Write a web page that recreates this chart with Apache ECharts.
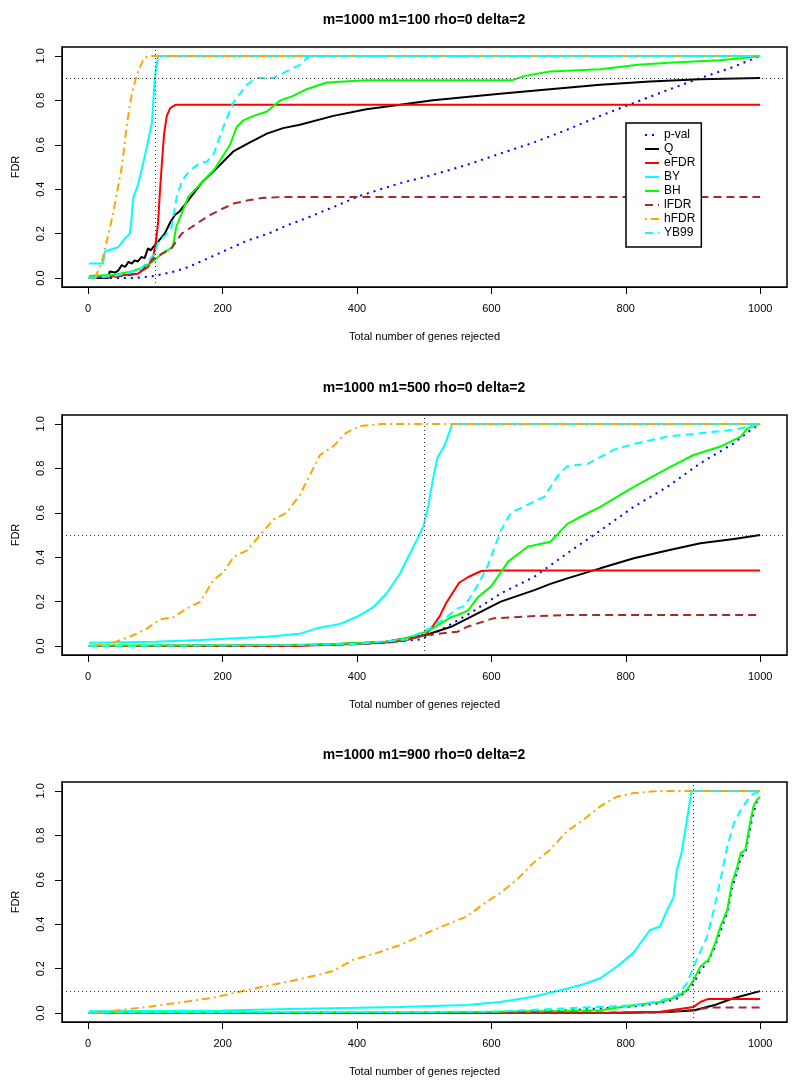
<!DOCTYPE html>
<html>
<head>
<meta charset="utf-8">
<script src="https://cdn.jsdelivr.net/npm/echarts@6/dist/echarts.min.js"></script>
<style>
  html, body { margin: 0; padding: 0; background: #fff; }
  #chart { width: 800px; height: 1085px; }
</style>
</head>
<body>
<div id="chart"></div>
<script>
// series names, as in the legend
const methods = ['p-val', 'Q', 'eFDR', 'BY', 'BH', 'lFDR', 'hFDR', 'YB99'];
const titles = ['m=1000 m1=100 rho=0 delta=2', 'm=1000 m1=500 rho=0 delta=2', 'm=1000 m1=900 rho=0 delta=2'];
const xTicks = [0, 200, 400, 600, 800, 1000];
const yTicks = [0, 0.2, 0.4, 0.6, 0.8, 1.0];
const hLines = [0.9, 0.5, 0.1];     // dotted horizontal reference
const vLines = [100, 500, 900];     // dotted vertical reference

// ---- panel 1 : m1=100  ([genes rejected, FDR]) ----
const p1Pval = [[1,0],[70,0],[99,0.01],[129,0.03],[149,0.05],[179,0.09],[208,0.13],[238,0.17],[268,0.2],[298,0.24],[325,0.27],[365,0.32],[404,0.37],[464,0.427],[513,0.465],[563,0.509],[613,0.56],[663,0.61],[712,0.667],[762,0.73],[811,0.787],[861,0.845],[911,0.9],[960,0.95],[1000,1]];
const p1Q = [[1,0],[30,0],[32,0.03],[40,0.025],[45,0.035],[50,0.059],[55,0.05],[60,0.073],[65,0.065],[69,0.08],[74,0.075],[79,0.095],[84,0.09],[89,0.134],[93,0.125],[97,0.14],[104,0.164],[114,0.2],[122,0.25],[129,0.284],[136,0.3],[149,0.35],[169,0.43],[193,0.5],[216,0.57],[240,0.61],[266,0.65],[290,0.675],[315,0.69],[365,0.73],[414,0.76],[464,0.78],[513,0.8],[563,0.815],[613,0.83],[687,0.85],[762,0.87],[836,0.885],[911,0.895],[1000,0.9]];
const p1EFDR = [[1,0],[40,0.01],[74,0.02],[89,0.05],[97,0.1],[101,0.17],[104,0.25],[107,0.4],[110,0.53],[113,0.65],[117,0.73],[122,0.765],[130,0.78],[1000,0.78]];
const p1BY = [[1,0.066],[22,0.066],[25,0.12],[45,0.14],[55,0.18],[62,0.2],[64,0.25],[67,0.36],[74,0.42],[79,0.48],[85,0.56],[90,0.63],[95,0.7],[98,0.85],[100,0.92],[104,1],[1000,1]];
const p1BH = [[1,0.009],[40,0.015],[64,0.03],[79,0.045],[94,0.07],[110,0.11],[126,0.14],[131,0.23],[139,0.29],[149,0.366],[169,0.43],[188,0.49],[211,0.6],[221,0.68],[231,0.71],[246,0.73],[266,0.75],[286,0.8],[305,0.82],[325,0.85],[355,0.88],[414,0.89],[630,0.89],[650,0.91],[687,0.93],[762,0.94],[818,0.96],[870,0.97],[940,0.98],[975,0.99],[1000,1]];
const p1LFDR = [[1,0],[40,0.005],[74,0.02],[99,0.09],[124,0.135],[139,0.2],[159,0.24],[179,0.28],[198,0.31],[218,0.337],[238,0.35],[258,0.36],[288,0.365],[1000,0.365]];
const p1HFDR = [[1,0],[10,0],[20,0.07],[32,0.22],[37,0.29],[50,0.5],[58,0.7],[65,0.83],[73,0.92],[83,0.99],[92,1],[1000,1]];
const p1YB99 = [[1,0],[40,0.01],[78,0.04],[99,0.11],[104,0.16],[117,0.2],[124,0.23],[132,0.37],[140,0.44],[150,0.48],[167,0.52],[177,0.525],[187,0.56],[201,0.68],[216,0.79],[236,0.87],[250,0.9],[276,0.9],[295,0.93],[315,0.96],[330,1],[1000,1]];

// ---- panel 2 : m1=500 ----
const p2Pval = [[1,0],[300,0.003],[400,0.01],[450,0.018],[494,0.03],[514,0.055],[564,0.14],[614,0.237],[664,0.312],[713,0.418],[762,0.52],[812,0.627],[862,0.717],[911,0.823],[961,0.913],[985,0.97],[1000,1]];
const p2Q = [[1,0],[300,0.002],[365,0.008],[439,0.018],[474,0.036],[503,0.05],[523,0.07],[540,0.087],[565,0.125],[614,0.2],[664,0.252],[688,0.28],[713,0.305],[762,0.35],[812,0.395],[862,0.43],[911,0.463],[961,0.482],[1000,0.5]];
const p2EFDR = [[1,0],[300,0.001],[365,0.006],[439,0.015],[474,0.027],[503,0.054],[513,0.09],[523,0.134],[533,0.195],[552,0.285],[565,0.31],[585,0.338],[600,0.34],[1000,0.34]];
const p2BY = [[1,0.015],[100,0.02],[167,0.027],[266,0.042],[315,0.056],[340,0.08],[375,0.1],[400,0.132],[425,0.177],[444,0.237],[464,0.327],[479,0.418],[489,0.477],[499,0.54],[506,0.63],[513,0.75],[520,0.85],[530,0.9],[542,1],[1000,1]];
const p2BH = [[1,0.003],[300,0.005],[365,0.009],[439,0.018],[474,0.036],[503,0.065],[513,0.08],[540,0.13],[550,0.14],[565,0.16],[580,0.22],[600,0.27],[625,0.38],[654,0.447],[688,0.47],[713,0.55],[738,0.59],[762,0.627],[812,0.717],[862,0.8],[901,0.86],[941,0.898],[971,0.943],[981,0.98],[1000,1]];
const p2LFDR = [[1,0],[300,0.003],[400,0.008],[464,0.02],[503,0.05],[550,0.065],[564,0.087],[603,0.125],[664,0.135],[713,0.14],[1000,0.14]];
const p2HFDR = [[1,0],[33,0.01],[68,0.05],[88,0.08],[107,0.12],[127,0.13],[147,0.17],[167,0.2],[187,0.3],[201,0.33],[216,0.4],[236,0.43],[256,0.5],[276,0.57],[295,0.6],[315,0.68],[335,0.8],[345,0.86],[365,0.9],[384,0.96],[404,0.99],[438,1],[1000,1]];
const p2YB99 = [[1,0],[300,0.004],[400,0.01],[474,0.03],[508,0.08],[533,0.13],[550,0.17],[560,0.18],[575,0.25],[594,0.357],[614,0.52],[629,0.6],[659,0.643],[679,0.673],[698,0.763],[713,0.81],[743,0.82],[782,0.883],[812,0.91],[862,0.943],[911,0.958],[961,0.973],[1000,1]];

// ---- panel 3 : m1=900 ----
const p3Pval = [[1,0],[600,0.004],[700,0.01],[811,0.03],[851,0.045],[876,0.065],[891,0.1],[901,0.134],[911,0.19],[923,0.235],[933,0.3],[941,0.37],[951,0.45],[958,0.56],[966,0.64],[971,0.7],[978,0.72],[983,0.8],[990,0.9],[995,0.95],[1000,0.972]];
const p3Q = [[1,0],[800,0.002],[861,0.005],[901,0.012],[911,0.02],[931,0.035],[960,0.067],[1000,0.099]];
const p3EFDR = [[1,0],[780,0.002],[851,0.006],[901,0.028],[911,0.05],[923,0.064],[1000,0.064]];
const p3BY = [[1,0.008],[200,0.012],[300,0.018],[464,0.027],[563,0.036],[613,0.05],[662,0.074],[712,0.11],[737,0.13],[762,0.157],[787,0.21],[811,0.27],[836,0.374],[851,0.39],[861,0.46],[871,0.52],[876,0.644],[883,0.72],[891,0.87],[898,1],[1000,1]];
const p3BH = [[1,0.002],[500,0.004],[600,0.006],[712,0.01],[762,0.013],[811,0.035],[851,0.05],[876,0.073],[891,0.104],[901,0.149],[911,0.21],[923,0.24],[933,0.314],[941,0.39],[951,0.464],[958,0.584],[966,0.66],[971,0.72],[978,0.735],[983,0.824],[990,0.93],[995,0.96],[1000,0.972]];
const p3LFDR = [[1,0],[850,0.003],[901,0.015],[926,0.025],[1000,0.025]];
const p3HFDR = [[1,0],[10,0],[38,0.01],[93,0.03],[142,0.05],[187,0.07],[216,0.09],[246,0.11],[295,0.14],[340,0.17],[365,0.19],[394,0.24],[429,0.27],[464,0.306],[514,0.374],[563,0.434],[588,0.49],[613,0.54],[638,0.6],[662,0.674],[687,0.734],[712,0.817],[737,0.87],[762,0.93],[787,0.974],[811,0.99],[850,1],[1000,1]];
const p3YB99 = [[1,0.002],[600,0.006],[811,0.035],[851,0.055],[876,0.08],[891,0.134],[901,0.21],[921,0.344],[931,0.464],[941,0.6],[951,0.75],[961,0.854],[971,0.914],[986,0.98],[1000,1]];

const panelData = [
  [p1Pval, p1Q, p1EFDR, p1BY, p1BH, p1LFDR, p1HFDR, p1YB99],
  [p2Pval, p2Q, p2EFDR, p2BY, p2BH, p2LFDR, p2HFDR, p2YB99],
  [p3Pval, p3Q, p3EFDR, p3BY, p3BH, p3LFDR, p3HFDR, p3YB99]
];

const colors = ['#0000ff', '#000000', '#ff0000', '#00ffff', '#00ff00', '#a52a2a', '#ffa500', '#00ffff'];
const dashes = [[2, 5], 'solid', 'solid', 'solid', 'solid', [8, 5], [2, 4, 8, 4], [8, 5]];
const font = 'Liberation Sans, Arial, Helvetica, sans-serif';
const gridTops = [47, 415, 782];

let chart = echarts.init(document.getElementById('chart'));

let grids = [], xAxes = [], yAxes = [], series = [], titleOpts = [];
gridTops.forEach((top, i) => {
  grids.push({
    left: 62, top: top, width: 725, height: 240,
    show: true, borderColor: '#000', borderWidth: 1.5, backgroundColor: 'transparent'
  });
  titleOpts.push({
    text: titles[i], left: 424, top: top - 34, textAlign: 'center', padding: 0,
    textStyle: { fontFamily: font, fontSize: 14, fontWeight: 'bold', color: '#000' }
  });
  xAxes.push({
    type: 'value', gridIndex: i, min: -38.96, max: 1039.96,
    axisLine: { show: true, onZero: false, lineStyle: { color: '#000', width: 1 } },
    splitLine: { show: false },
    axisTick: { show: true, length: 7, customValues: xTicks, lineStyle: { color: '#000', width: 1 } },
    axisLabel: { customValues: xTicks, margin: 16, fontSize: 11, color: '#000', fontFamily: font,
                 formatter: v => String(v) },
    name: 'Total number of genes rejected', nameLocation: 'middle', nameGap: 44,
    nameTextStyle: { fontSize: 11, color: '#000', fontFamily: font }
  });
  yAxes.push({
    type: 'value', gridIndex: i, min: -0.04, max: 1.04,
    axisLine: { show: true, onZero: false, lineStyle: { color: '#000', width: 1 } },
    splitLine: { show: false },
    axisTick: { show: true, length: 7, customValues: yTicks, lineStyle: { color: '#000', width: 1 } },
    axisLabel: { customValues: yTicks, rotate: 90, margin: 16, fontSize: 11, color: '#000', fontFamily: font,
                 formatter: v => v.toFixed(1) },
    name: 'FDR', nameLocation: 'middle', nameGap: 41,
    nameTextStyle: { fontSize: 11, color: '#000', fontFamily: font }
  });
  methods.forEach((m, k) => {
    let s = {
      name: m, type: 'line', xAxisIndex: i, yAxisIndex: i,
      data: panelData[i][k], symbol: 'none', silent: true,
      lineStyle: { color: colors[k], width: 2, type: dashes[k] },
      itemStyle: { color: colors[k] }
    };
    if (k === 0) {
      s.markLine = {
        silent: true, symbol: ['none', 'none'], label: { show: false },
        lineStyle: { color: '#333', type: [1, 3], width: 1 },
        data: [{ yAxis: hLines[i] }, { xAxis: vLines[i] }]
      };
    }
    series.push(s);
  });
});

chart.setOption({
  animation: false,
  color: colors,
  title: titleOpts,
  grid: grids,
  xAxis: xAxes,
  yAxis: yAxes,
  legend: {
    data: methods, orient: 'vertical', left: 626, top: 123,
    itemWidth: 14, itemHeight: 10, itemGap: 2, padding: [6, 6, 8, 18],
    borderColor: '#000', borderWidth: 1.5, backgroundColor: '#fff',
    selectedMode: false,
    itemStyle: { opacity: 0 },
    textStyle: { fontSize: 12, color: '#000', fontFamily: font }
  },
  series: series
});
</script>
</body>
</html>
